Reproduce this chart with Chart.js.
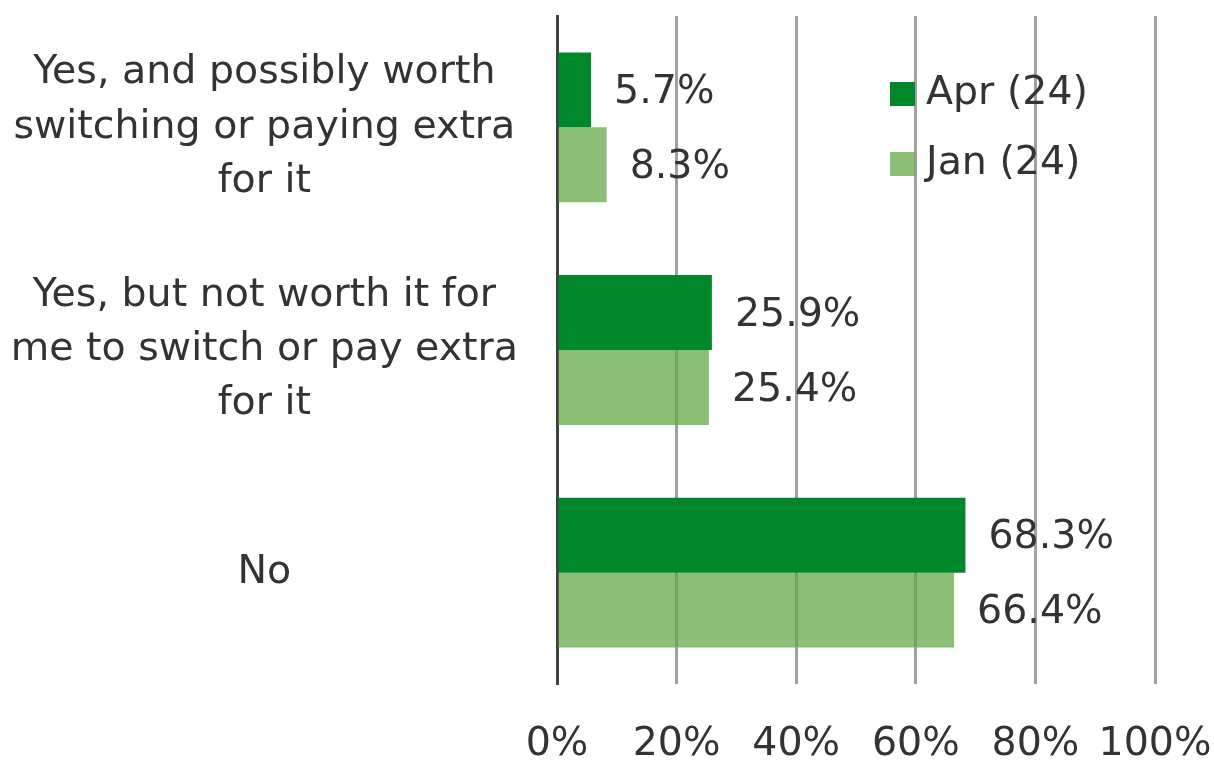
<!DOCTYPE html>
<html>
<head>
<meta charset="utf-8">
<script src="https://cdn.jsdelivr.net/npm/chart.js@4.4.1/dist/chart.umd.min.js"></script>
<style>
  html, body { margin: 0; padding: 0; background: #ffffff; }
  #wrap { width: 1214px; height: 764px; }
</style>
</head>
<body>
<div id="wrap"><canvas id="chart"></canvas></div>
<script>
// Survey answers (multi-line labels) and shares per wave
const categories = [
  ['Yes, and possibly worth', 'switching or paying extra', 'for it'],
  ['Yes, but not worth it for', 'me to switch or pay extra', 'for it'],
  'No'
];
const seriesNames = ['Apr (24)', 'Jan (24)'];
const aprValues = [5.7, 25.9, 68.3];
const janValues = [8.3, 25.4, 66.4];
const xTicks = [0, 20, 40, 60, 80, 100];

const FONT = 'DejaVu Sans';
const FONT_SIZE = 39.5;
const TEXT = '#333333';

// Value labels to the right of each bar
const barLabels = {
  id: 'barLabels',
  afterDatasetsDraw(chart) {
    const ctx = chart.ctx;
    ctx.save();
    ctx.font = FONT_SIZE + 'px "' + FONT + '"';
    ctx.fillStyle = TEXT;
    ctx.textAlign = 'left';
    ctx.textBaseline = 'middle';
    chart.data.datasets.forEach((ds, di) => {
      const meta = chart.getDatasetMeta(di);
      meta.data.forEach((bar, i) => {
        ctx.fillText(ds.data[i].toFixed(1) + '%', bar.x + 23, bar.y + 3);
      });
    });
    ctx.restore();
  }
};

// Legend sitting inside the plot, top right
const innerLegend = {
  id: 'innerLegend',
  afterDatasetsDraw(chart) {
    const ctx = chart.ctx;
    ctx.save();
    ctx.font = FONT_SIZE + 'px "' + FONT + '"';
    ctx.textAlign = 'left';
    ctx.textBaseline = 'middle';
    chart.data.datasets.forEach((ds, i) => {
      const y = 94 + i * 70;
      ctx.fillStyle = ds.backgroundColor;
      ctx.fillRect(890, y - 12, 25, 24);
      ctx.fillStyle = TEXT;
      ctx.fillText(ds.label, 926, y);
    });
    ctx.restore();
  }
};

new Chart(document.getElementById('chart').getContext('2d'), {
  type: 'bar',
  data: {
    labels: categories,
    datasets: [
      {
        label: seriesNames[0],
        data: aprValues,
        backgroundColor: '#00862B',
        categoryPercentage: 0.673,
        barPercentage: 1
      },
      {
        label: seriesNames[1],
        data: janValues,
        backgroundColor: 'rgba(100, 170, 75, 0.75)',
        categoryPercentage: 0.673,
        barPercentage: 1
      }
    ]
  },
  options: {
    indexAxis: 'y',
    responsive: true,
    maintainAspectRatio: false,
    animation: false,
    layout: {
      padding: { left: 0, right: 59, top: 16, bottom: 0 }
    },
    scales: {
      x: {
        min: 0,
        max: 100,
        afterBuildTicks(scale) {
          scale.ticks = xTicks.map(v => ({ value: v }));
        },
        afterFit(scale) {
          scale.height = 80;
          scale.paddingLeft = 0;
          scale.paddingRight = 0;
        },
        grid: {
          color: ctx => (ctx.tick && ctx.tick.value === 0 ? '#404040' : '#A0A0A0'),
          lineWidth: 3,
          drawTicks: false
        },
        border: { display: false },
        ticks: {
          padding: 37,
          color: TEXT,
          font: { family: FONT, size: FONT_SIZE },
          maxRotation: 0,
          callback: v => v + '%'
        }
      },
      y: {
        afterFit(scale) {
          scale.width = 557;
          scale.paddingTop = 0;
          scale.paddingBottom = 0;
        },
        grid: { display: false, drawTicks: false },
        border: { display: true, color: '#404040', width: 3 },
        ticks: {
          crossAlign: 'center',
          padding: 39,
          color: TEXT,
          font: { family: FONT, size: FONT_SIZE, lineHeight: 1.37 }
        }
      }
    },
    plugins: {
      legend: { display: false },
      tooltip: { enabled: false }
    }
  },
  plugins: [barLabels, innerLegend]
});
</script>
</body>
</html>
